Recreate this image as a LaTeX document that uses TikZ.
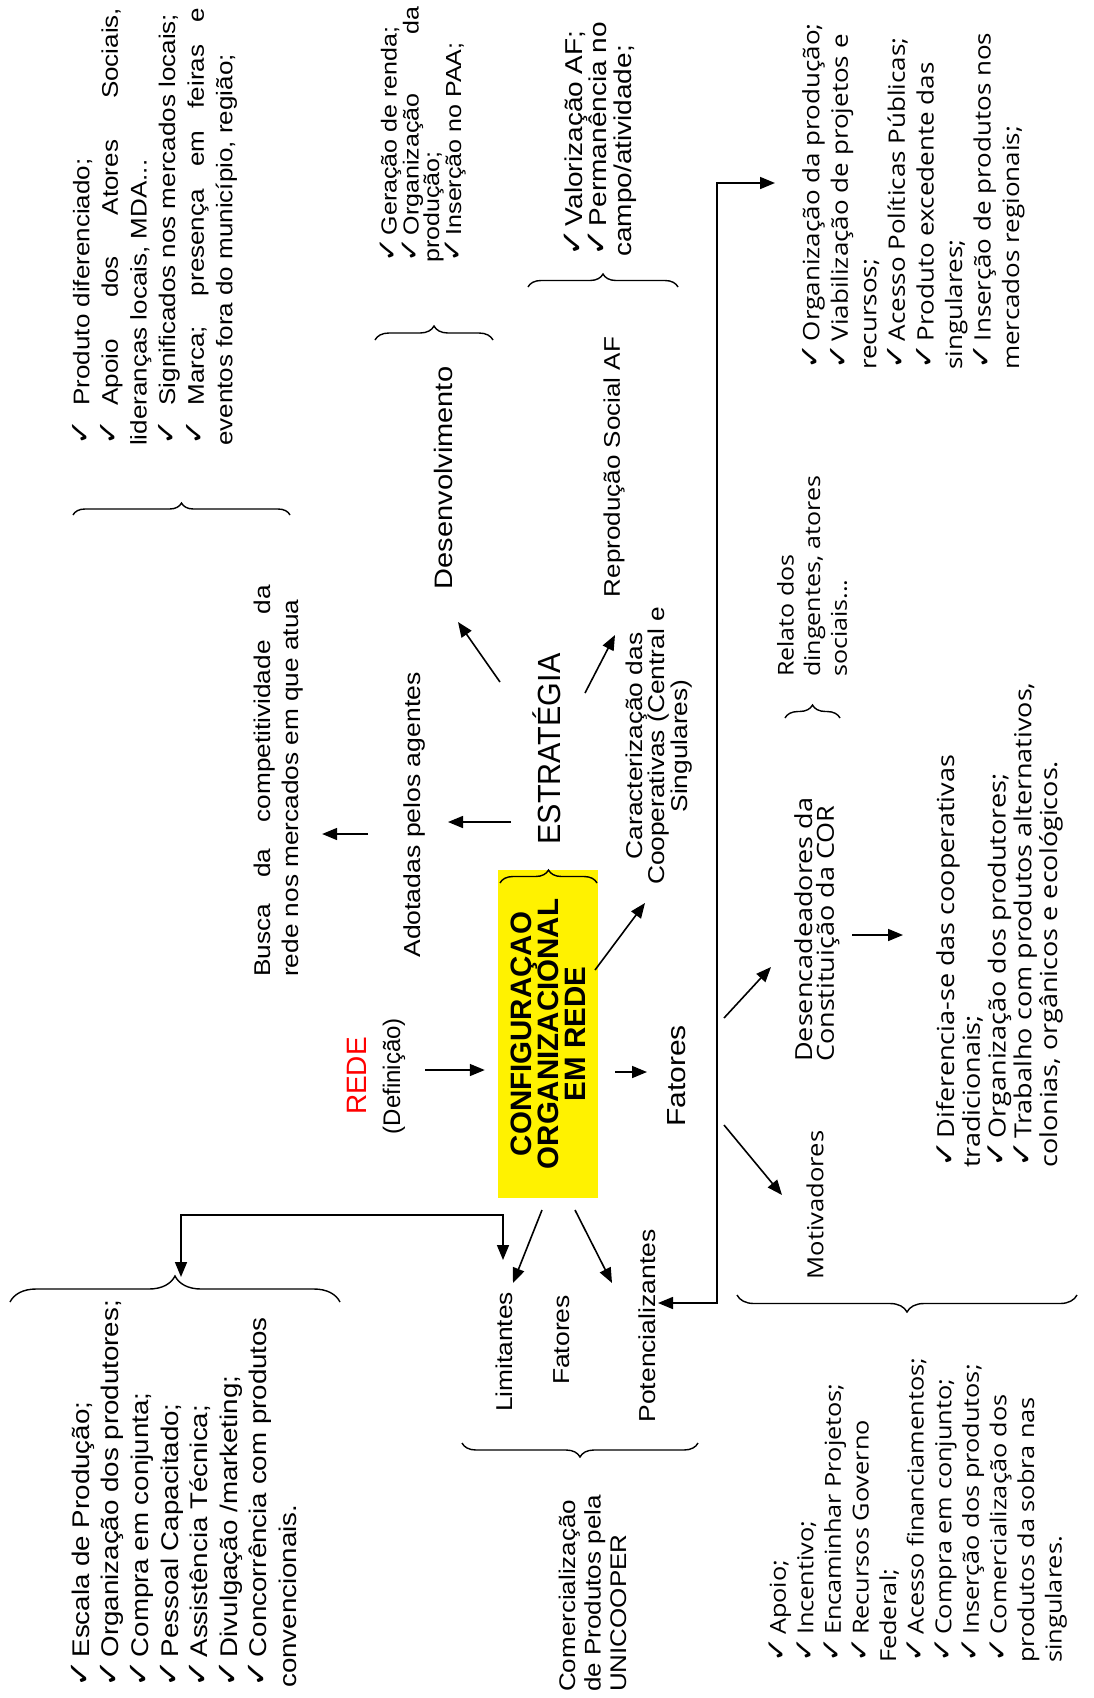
\documentclass[tikz,border=0pt]{standalone}
\usepackage{fontspec}
\usepackage{graphicx}
\setmainfont{Liberation Sans}
\newfontfamily\opensans{Open Sans}
\newfontfamily\ckfont{DejaVu Sans}
\usetikzlibrary{arrows.meta,decorations.pathreplacing,calc}

\newcommand{\fs}[2]{\fontsize{#1pt}{#2pt}\selectfont}
\newcommand{\ck}[1][1.1em]{\makebox[#1][l]{\scalebox{1.2}{\ckfont ✓}}}

\tikzset{
  txt/.style={rotate=90, yscale=#1, inner sep=0pt, align=left},
  txt/.default=0.87,
  arr/.style={line width=1.6pt, -{Triangle[length=15pt,width=12pt]}},
  dblarr/.style={line width=1.6pt, {Triangle[length=15pt,width=12pt]}-{Triangle[length=15pt,width=12pt]}},
  brc/.style={decorate, decoration={brace, amplitude=#1}, line width=1.4pt}
}

\begin{document}
\begin{tikzpicture}[x=1pt, y=-1pt]
            
            \fill[white] (0,0) rectangle (1093,1698);
            \useasboundingbox (0,0) rectangle (1093,1698);
            
            \node[txt=1, fill=yellow, minimum width=328pt, minimum height=100pt, align=center,
                  font=\bfseries\fs{29.5}{26.7}] (box) at (548,1034)
            {CONFIGURAÇAO\\ORGANIZACIONAL\\EM REDE};
            \draw[brc=13pt] (500,883) -- (597,883);
            
            \node[txt=1, text=red, font=\fs{28}{30}] (rede) at (357,1076) {REDE};
            \node[txt=1, font=\fs{24}{28}] (defn) at (394,1076) {(Definição)};
            \node[txt, font=\fs{30}{34}] (fat) at (677,1076) {Fatores};
            \node[txt=1.05, font=\fs{30.5}{34}] (estr) at (547,749) {ESTRATÉGIA};
            \node[txt, font=\fs{26.6}{30}] (adot) at (415,815) {Adotadas pelos agentes};
            \node[txt, font=\fs{29}{33}] (desenv) at (443,478) {Desenvolvimento};
            \node[txt, font=\fs{26}{30}] (repro) at (614,467) {Reprodução Social AF};
            \node[txt, align=center, font=\fs{26.3}{21.8}] (cara) at (659,746)
            {Caracterização das\\Cooperativas (Central e\\Singulares)};
            
            \node[txt, anchor=north west, font=\fs{26.2}{32.2}] (busca) at (253.5,977)
            {\makebox[392pt][s]{Busca da competitividade da}\\rede nos mercados em que atua};
            
            \node[txt, anchor=north west, font=\fs{26}{32.9}] (lstA) at (72,446)
            {\ck[1.55em]Produto diferenciado;\\
             \makebox[438pt][s]{\ck[1.55em]Apoio dos Atores Sociais,}\\
             lideranças locais, MDA...\\
             \ck[1.55em]Significados nos mercados locais;\\
             \makebox[438pt][s]{\ck[1.55em]Marca; presença em feiras e}\\
             eventos fora do município, região;};
            \draw[brc=12pt] (73,515) -- (290,515);
            
            \node[txt, anchor=north west, font=\fs{25}{23.8}] (lstB) at (380,263)
            {\ck Geração de renda;\\
             \makebox[256pt][s]{\ck Organização da}\\
             produção;\\
             \ck Inserção no PAA;};
            \draw[brc=14pt] (375,340) -- (493,340);
            
            \node[txt, anchor=north west, font=\fs{28}{28}] (lstC) at (564,257)
            {\ck Valorização AF;\\
             \ck Permanência no\\
             campo/atividade;};
            \draw[brc=13pt] (528,287) -- (678,287);
            
            \node[txt, anchor=north west, font=\opensans\fs{26}{32.8}] (lstD) at (802,370)
            {\ck Organização da produção;\\
             \ck Viabilização de projetos e\\
             recursos;\\
             \ck Acesso Políticas Públicas;\\
             \ck Produto excedente das\\
             singulares;\\
             \ck Inserção de produtos nos\\
             mercados regionais;};
            
            \node[txt, anchor=north west, font=\opensans\fs{25}{30.5}] (relato) at (777,677)
            {Relato dos\\dingentes, atores\\sociais...};
            \draw[brc=13pt] (785,718) -- (840,718);
            
            \node[txt, anchor=north west, font=\opensans\fs{27}{25}] (desenc) at (794,1062)
            {Desencadeadores da\\Constituição da COR};
            \node[txt, font=\opensans\fs{25.6}{30}] (motiv) at (815,1205) {Motivadores};
            
            \node[txt, anchor=north west, font=\opensans\fs{27}{29.6}] (lstE) at (936,1168)
            {\ck Diferencia-se das cooperativas\\
             tradicionais;\\
             \ck Organização dos produtores;\\
             \ck Trabalho com produtos alternativos,\\
             colonias, orgânicos e ecológicos.};
            
            \node[txt, anchor=north west, font=\opensans\fs{25.3}{31.7}] (lstF) at (769,1663)
            {\ck Apoio;\\
             \ck Incentivo;\\
             \ck Encaminhar Projetos;\\
             \ck Recursos Governo\\
             Federal;\\
             \ck Acesso financiamentos;\\
             \ck Compra em conjunto;\\
             \ck Inserção dos produtos;\\
             \ck Comercialização dos\\
             produtos da sobra nas\\
             singulares.};
            \draw[brc=17pt] (1077,1295) -- (737,1295);
            
            \node[txt, font=\fs{26.3}{30}] (lim) at (504,1352) {Limitantes};
            \node[txt, font=\fs{26.5}{30}] (fat2) at (562,1340) {Fatores};
            \node[txt, font=\fs{26.5}{30}] (pot) at (647,1326) {Potencializantes};
            \draw[brc=14pt] (698,1443) -- (462,1443);
            
            \node[txt, anchor=north west, font=\fs{26}{29.3}] (comerc) at (558.6,1692)
            {Comercialização\\de Produtos pela\\UNICOOPER};
            
            \node[txt, anchor=north west, font=\fs{27.7}{34}] (lstG) at (71,1688)
            {\ck Escala de Produção;\\
             \ck Organização dos produtores;\\
             \ck Compra em conjunta;\\
             \ck Pessoal Capacitado;\\
             \ck Assistência Técnica;\\
             \ck Divulgação /marketing;\\
             \ck Concorrência com produtos\\
             convencionais.};
            \draw[brc=26pt] (10,1302) -- (340,1302);
            
            \draw[arr] ($(defn)+(31,-6)$) -- ($(box.north)+(-13,36)$);
            \draw[arr] ($(box.south)+(17,38)$) -- ($(fat)+(-30,-4)$);
            \draw[arr] ($(box)+(47,-64)$) -- ($(cara)+(-14,157)$);
            \draw[arr] ($(box)+(-6,176)$) -- ($(lim)+(9,-69)$);
            \draw[arr] ($(box)+(27,176)$) -- ($(pot)+(-35,-43)$);
            \draw[arr] ($(estr)+(-36,73)$) -- ($(adot)+(33,7)$);
            \coordinate (ab) at ($(adot)+(-47,19)$);
            \draw[arr, shorten >=19pt] (ab) -- (ab -| busca.south);
            \draw[arr] ($(estr)+(-47,-67)$) -- ($(desenv)+(15,144)$);
            \draw[arr] ($(estr)+(38,-56)$) -- ($(repro)+(1,168)$);
            \draw[arr] ($(fat)+(47,-58)$) -- ($(desenc.north west)+(-23,-95)$);
            \draw[arr] ($(fat)+(47,49)$) -- ($(motiv)+(-33,-10)$);
            \draw[arr] ($(desenc.north west)+(58,-127)$) -- ($(lstE.north west)+(-33,-233)$);
            
            \draw[dblarr] ($(lstD.north west)+(-27,-187)$) -- ++(-58,0) |- ($(pot)+(11,-23)$);
            \draw[dblarr] ($(lim)+(-1,-92)$) -- ++(0,-45) -| ($(lstG.north west)+(110,-411)$);
            
            \end{tikzpicture}
\end{document}
